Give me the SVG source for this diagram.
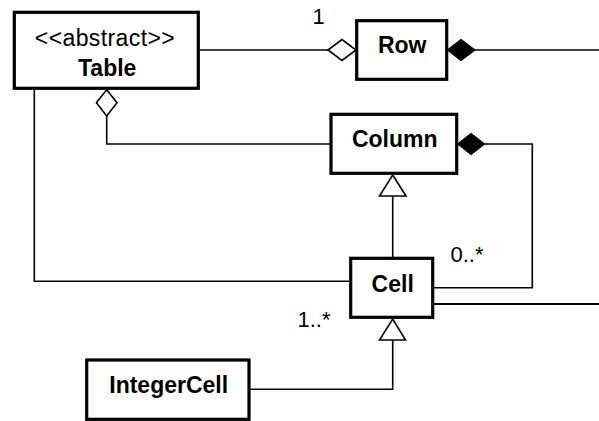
<svg xmlns="http://www.w3.org/2000/svg" width="599" height="421" viewBox="0 0 599 421">
<style>
.box{fill:#fff;stroke:#000;stroke-width:3.2}
.t{font-family:"Liberation Sans",Arial,sans-serif;font-size:23px;fill:#000;text-anchor:middle}
.b{font-weight:bold;font-size:23px}
.lbl{font-family:"Liberation Sans",Arial,sans-serif;font-size:22px;fill:#000}
.c{fill:none;stroke:#000;stroke-width:1.6}
.hollow{fill:#fff;stroke:#000;stroke-width:1.6}
.filled{fill:#000;stroke:#000;stroke-width:1.2}
</style>
<rect width="599" height="421" fill="#fff"/>
<g id="connectors">
<polyline class="c" points="199.8,50 328,50"/>
<polygon class="hollow" points="328,50 342,39.5 356,50 342,60.5"/>
<polygon class="filled" points="447.5,50 461,39.5 475,50 461,60.5"/>
<polyline class="c" points="475,50 599,50"/>
<polygon class="hollow" points="106.7,89.8 117,102.8 106.7,116 96.4,102.8"/>
<polyline class="c" points="106.7,116 106.7,144 331,144"/>
<polygon class="filled" points="457.8,144 471,133.5 484.5,144 471,154.5"/>
<polyline class="c" points="484.5,144 532.3,144 532.3,287.7 434,287.7"/>
<polygon class="hollow" points="392.7,175 406,196 379.5,196"/>
<polyline class="c" points="392.7,196 392.7,257"/>
<polyline class="c" points="34.3,89.5 34.3,281.3 349,281.3"/>
<polygon class="hollow" points="392.7,319 405.5,340 379.5,340"/>
<polyline class="c" points="392.7,340 392.7,389.3 250.5,389.3"/>
<polyline class="c" style="stroke-width:2" points="434,304 599,304"/>
<text class="lbl" x="312.5" y="24">1</text>
<text class="lbl" x="450.5" y="262">0..*</text>
<text class="lbl" x="297.5" y="327">1..*</text>
</g>
<g id="Table">
<rect class="box" x="14.3" y="12.3" width="184" height="76"/>
<text class="t" x="105" y="46" style="letter-spacing:0.4px">&lt;&lt;abstract&gt;&gt;</text>
<text class="t b" x="107.2" y="76">Table</text>
</g>
<g id="Row">
<rect class="box" x="356.7" y="20.7" width="90" height="58.6"/>
<text class="t b" x="402.2" y="53.3">Row</text>
</g>
<g id="Column">
<rect class="box" x="331" y="114.3" width="125.7" height="59"/>
<text class="t b" x="394.7" y="147.3">Column</text>
</g>
<g id="Cell">
<rect class="box" x="350.7" y="258.3" width="82" height="59"/>
<text class="t b" x="392.7" y="291.7">Cell</text>
</g>
<g id="IntegerCell">
<rect class="box" x="86.7" y="360" width="162.3" height="59.3"/>
<text class="t b" x="168.7" y="393.3">IntegerCell</text>
</g>
</svg>
